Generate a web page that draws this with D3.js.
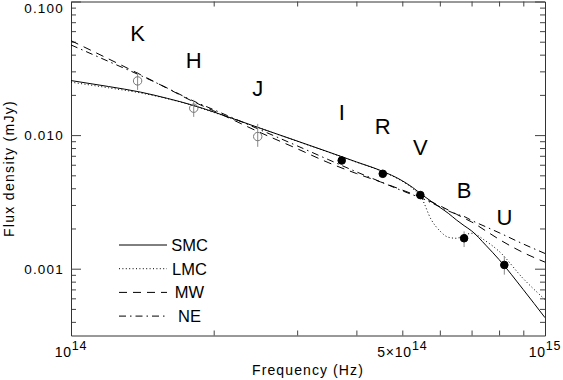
<!DOCTYPE html>
<html>
<head>
<meta charset="utf-8">
<script src="https://cdn.jsdelivr.net/npm/d3@7"></script>
<style>
  body { margin: 0; background: #fff; }
  text { font-family: "Liberation Sans", Arial, sans-serif; fill: #000; }
</style>
</head>
<body>
<svg id="chart" width="563" height="380"></svg>
<script>
// model curves, frequency in units of 1e14 Hz, flux in mJy
var modelFreq = [1.0, 1.2, 1.4, 1.6, 1.8, 2.0, 2.5, 3.0, 3.5, 4.0, 4.5, 5.0, 5.25, 5.5, 5.75, 6.0, 6.25, 6.5, 6.75, 7.0, 7.5, 8.0, 9.0, 10.0];
var smcFlux = [0.0256, 0.0231, 0.0210, 0.0188, 0.0168, 0.0149, 0.0113, 0.00903, 0.00746, 0.00630, 0.00543, 0.00455, 0.00407, 0.00358, 0.00320, 0.00288, 0.00260, 0.00232, 0.00210, 0.00192, 0.00150, 0.00117, 0.000697, 0.000430];
var lmcFlux = [0.0249, 0.0226, 0.0207, 0.0187, 0.0167, 0.0148, 0.0113, 0.00900, 0.00743, 0.00628, 0.00540, 0.00451, 0.00400, 0.00334, 0.00234, 0.00192, 0.00172, 0.00169, 0.00178, 0.00184, 0.00161, 0.00135, 0.000842, 0.000587];
var mwFlux = [0.0509, 0.0372, 0.0284, 0.0223, 0.0180, 0.0152, 0.0105, 0.00791, 0.00620, 0.00516, 0.00446, 0.00388, 0.00363, 0.00340, 0.00317, 0.00296, 0.00275, 0.00256, 0.00239, 0.00224, 0.00192, 0.00166, 0.00132, 0.00112];
var neFlux = [0.0473, 0.0356, 0.0280, 0.0224, 0.0182, 0.0155, 0.0110, 0.00831, 0.00653, 0.00531, 0.00447, 0.00383, 0.00358, 0.00337, 0.00312, 0.00291, 0.00271, 0.00256, 0.00246, 0.00230, 0.00206, 0.00186, 0.00153, 0.00130];

// photometry points
var bandNames = ["K", "H", "J", "I", "R", "V", "B", "U"];
var bandFreq = [1.382, 1.815, 2.477, 3.725, 4.547, 5.458, 6.75, 8.207]; // 1e14 Hz
var bandFlux = [0.02544, 0.01590, 0.009754, 0.006452, 0.005132, 0.003557, 0.001690, 0.001067];
var bandLow = [0.02180, 0.01369, 0.008168, 0.006452, 0.005132, 0.003337, 0.001453, 0.000902];
var bandHigh = [0.02971, 0.01835, 0.01214, 0.006452, 0.005132, 0.003785, 0.001901, 0.001236];
var bandOpen = [true, true, true, false, false, false, false, false];

// axis labels
var yTickValues = [0.1, 0.01, 0.001];
var yTickLabels = ["0.100", "0.010", "0.001"];
var xTickValues = [1e14, 5e14, 1e15];
var xTickBase = ["10", "5\u00d710", "10"];
var xTickExp = ["14", "14", "15"];

var legendNames = ["SMC", "LMC", "MW", "NE"];
var legendDash = [null, "1,2.4", "8,6", "7,4,1.5,4"];

var svgWidth = 563;
var svgHeight = 380;
var chartMargin = { top: 1.5, right: 18, bottom: 44.5, left: 71 };
var chartWidth = svgWidth - chartMargin.left - chartMargin.right; // 474
var chartHeight = svgHeight - chartMargin.top - chartMargin.bottom; // 334

var svg = d3.select("#chart");
var chartGroup = svg.append("g")
    .attr("transform", `translate(${chartMargin.left}, ${chartMargin.top})`);

var xLogScale = d3.scaleLog().domain([1e14, 1e15]).range([0, chartWidth]);
var yLogScale = d3.scaleLog().domain([Math.pow(10, -3.5), 0.1]).range([chartHeight, 0]);

svg.append("defs").append("clipPath").attr("id", "plotclip")
    .append("rect").attr("x", 0).attr("y", 0).attr("width", chartWidth).attr("height", chartHeight);

// minor ticks: every 2..9 of each decade
var minorX = xLogScale.ticks().filter(v => v > 1e14 && v < 1e15);
var minorY = yLogScale.ticks().filter(v => yTickValues.indexOf(v) < 0 && Math.abs(Math.log10(v) % 1) > 1e-6);

function styleAxis(g) {
    g.selectAll("path").attr("stroke", "#333").attr("stroke-width", 1);
    g.selectAll("line").attr("stroke", "#444").attr("stroke-width", 1);
}

chartGroup.append("g") // bottom
    .attr("transform", `translate(0, ${chartHeight})`)
    .call(d3.axisBottom(xLogScale).tickValues(minorX).tickSize(-5).tickSizeOuter(0).tickFormat(""))
    .call(styleAxis);
chartGroup.append("g") // top
    .call(d3.axisTop(xLogScale).tickValues(minorX).tickSize(-5).tickSizeOuter(0).tickFormat(""))
    .call(styleAxis);
chartGroup.append("g") // left minor
    .call(d3.axisLeft(yLogScale).tickValues(minorY).tickSize(-5).tickSizeOuter(0).tickFormat(""))
    .call(styleAxis);
chartGroup.append("g") // left major
    .call(d3.axisLeft(yLogScale).tickValues(yTickValues).tickSize(-10).tickSizeOuter(0).tickFormat(""))
    .call(styleAxis);
chartGroup.append("g") // right minor
    .attr("transform", `translate(${chartWidth}, 0)`)
    .call(d3.axisRight(yLogScale).tickValues(minorY).tickSize(-5).tickSizeOuter(0).tickFormat(""))
    .call(styleAxis);
chartGroup.append("g") // right major
    .attr("transform", `translate(${chartWidth}, 0)`)
    .call(d3.axisRight(yLogScale).tickValues(yTickValues).tickSize(-10).tickSizeOuter(0).tickFormat(""))
    .call(styleAxis);

// y tick labels
chartGroup.append("g").selectAll("text")
    .data(yTickValues)
    .enter()
    .append("text")
    .attr("x", -7)
    .attr("y", d => Math.max(yLogScale(d), 6) + 5)
    .attr("text-anchor", "end")
    .attr("font-size", 13.5)
    .attr("letter-spacing", 1.2)
    .text((d, i) => yTickLabels[i]);

// x tick labels with exponent
var xLabels = chartGroup.append("g").selectAll("text")
    .data(xTickValues)
    .enter()
    .append("text")
    .attr("x", d => xLogScale(d))
    .attr("y", chartHeight + 21)
    .attr("text-anchor", "middle")
    .attr("font-size", 14)
    .attr("letter-spacing", 0.8);
xLabels.append("tspan").text((d, i) => xTickBase[i]);
xLabels.append("tspan").attr("dy", -7).attr("font-size", 12.5).text((d, i) => xTickExp[i]);

// axis titles
chartGroup.append("text")
    .attr("x", chartWidth / 2)
    .attr("y", chartHeight + 39)
    .attr("text-anchor", "middle")
    .attr("font-size", 14)
    .attr("letter-spacing", 1.1)
    .text("Frequency (Hz)");
chartGroup.append("text")
    .attr("transform", "rotate(-90)")
    .attr("x", -chartHeight / 2)
    .attr("y", -57)
    .attr("text-anchor", "middle")
    .attr("font-size", 14)
    .attr("letter-spacing", 1.3)
    .text("Flux density (mJy)");

// model curves
var modelSeries = [smcFlux, lmcFlux, mwFlux, neFlux];
var curveLine = d3.line()
    .x(d => xLogScale(d.f))
    .y(d => yLogScale(d.v))
    .curve(d3.curveMonotoneX);
var curveGroup = chartGroup.append("g").attr("clip-path", "url(#plotclip)");
modelSeries.forEach(function (series, s) {
    var pts = modelFreq.map((f, i) => ({ f: f * 1e14, v: series[i] }));
    curveGroup.append("path")
        .datum(pts)
        .attr("d", curveLine)
        .attr("fill", "none")
        .attr("stroke", "#000")
        .attr("stroke-width", 1)
        .attr("stroke-dasharray", legendDash[s]);
});

// error bars
chartGroup.append("g").selectAll("line")
    .data(bandFreq)
    .enter()
    .append("line")
    .attr("x1", d => xLogScale(d * 1e14))
    .attr("x2", d => xLogScale(d * 1e14))
    .attr("y1", (d, i) => yLogScale(bandLow[i]))
    .attr("y2", (d, i) => yLogScale(bandHigh[i]))
    .attr("stroke", "#888")
    .attr("stroke-width", 1);

// points, open for the near infrared
chartGroup.append("g").selectAll("circle")
    .data(bandFreq)
    .enter()
    .append("circle")
    .attr("cx", d => xLogScale(d * 1e14))
    .attr("cy", (d, i) => yLogScale(bandFlux[i]))
    .attr("r", (d, i) => bandOpen[i] ? 4.2 : 3.8)
    .attr("fill", (d, i) => bandOpen[i] ? "none" : "#000")
    .attr("stroke", (d, i) => bandOpen[i] ? "#777" : "#000")
    .attr("stroke-width", 1);

// band letters, a factor 2 above each point
chartGroup.append("g").selectAll("text")
    .data(bandFreq)
    .enter()
    .append("text")
    .attr("x", d => xLogScale(d * 1e14))
    .attr("y", (d, i) => yLogScale(bandFlux[i] * 2))
    .attr("text-anchor", "middle")
    .attr("font-size", 22)
    .text((d, i) => bandNames[i]);

// legend
var legendGroup = svg.append("g").attr("transform", "translate(119, 245)");
legendNames.forEach(function (name, i) {
    legendGroup.append("line")
        .attr("x1", 0)
        .attr("x2", 48)
        .attr("y1", i * 23.7)
        .attr("y2", i * 23.7)
        .attr("stroke", "#000")
        .attr("stroke-width", 1)
        .attr("stroke-dasharray", legendDash[i]);
    legendGroup.append("text")
        .attr("x", 70.5)
        .attr("y", i * 23.7 + 6)
        .attr("text-anchor", "middle")
        .attr("font-size", 16.5)
        .text(name);
});
</script>
</body>
</html>
